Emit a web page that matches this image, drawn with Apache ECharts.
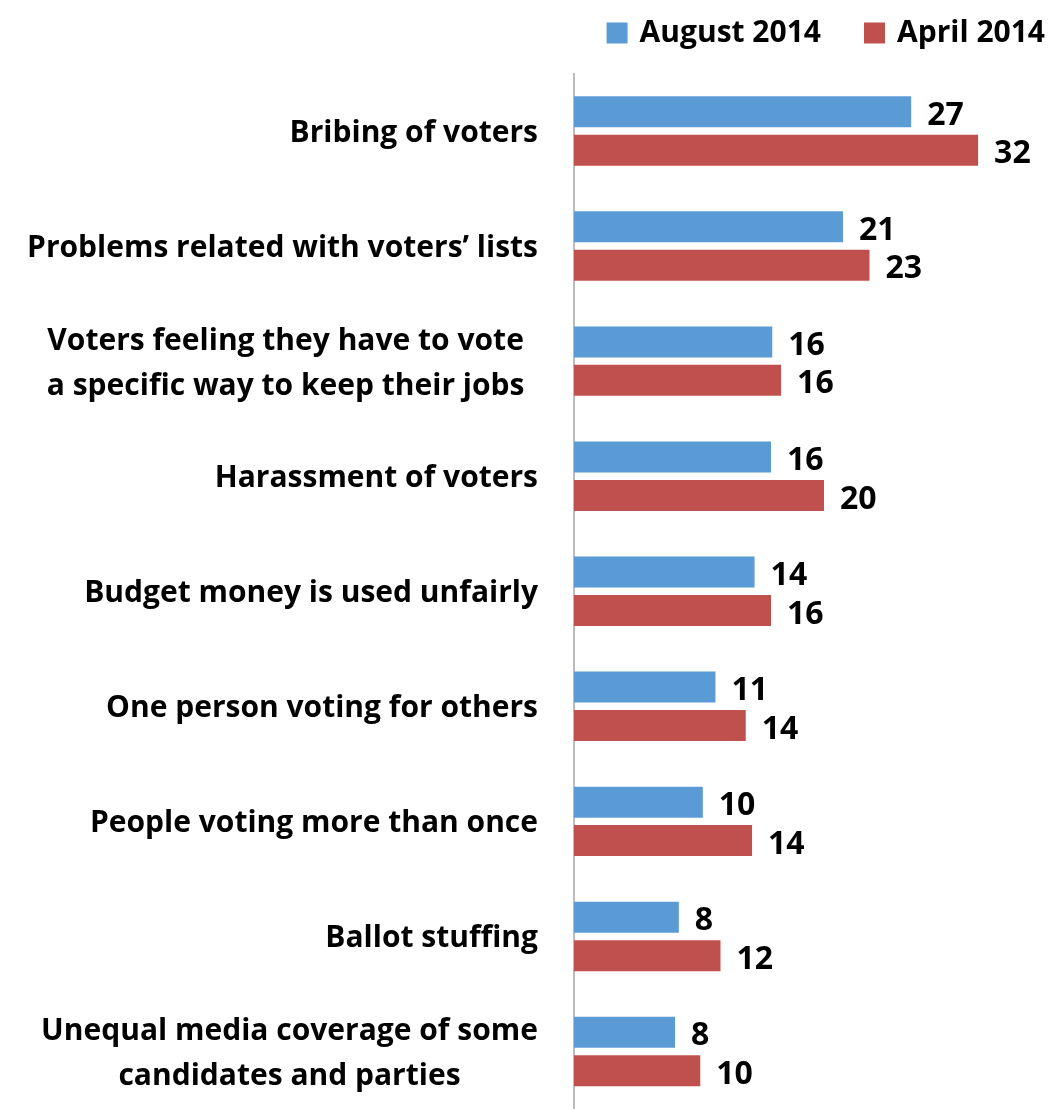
<!DOCTYPE html>
<html>
<head>
<meta charset="utf-8">
<script src="https://cdn.jsdelivr.net/npm/echarts@6/dist/echarts.min.js"></script>
<style>
  html, body { margin: 0; padding: 0; background: #ffffff; }
  #chart { width: 1056px; height: 1109px; }
</style>
</head>
<body>
<div id="chart"></div>
<script>
const categories = [
  "Bribing of voters",
  "Problems related with voters\u2019 lists",
  "Voters feeling they have to vote \na specific way to keep their jobs ",
  "Harassment of voters",
  "Budget money is used unfairly",
  "One person voting for others",
  "People voting more than once",
  "Ballot stuffing",
  "Unequal media coverage of some\ncandidates and parties"
];
const seriesNames = ["August 2014", "April 2014"];
const august2014 = [26.7, 21.3, 15.7, 15.6, 14.3, 11.2, 10.2, 8.3, 8.0];
const april2014 = [32.0, 23.4, 16.4, 19.8, 15.6, 13.6, 14.1, 11.6, 10.0];

const FONT = "Open Sans";
const labelSize = 30;
const valueSize = 32;

const measureCanvas = document.createElement("canvas").getContext("2d");
measureCanvas.font = "bold " + labelSize + "px '" + FONT + "'";
function measure(t) { return measureCanvas.measureText(t).width; }

const richStyle = {
  c: { align: "center", fontFamily: FONT, fontWeight: "bold", fontSize: labelSize, color: "#000", lineHeight: 45 }
};
categories.forEach(c => {
  const lines = c.split("\n");
  if (lines.length > 1) {
    const w = Math.ceil(Math.max.apply(null, lines.map(measure)));
    richStyle.c.width = Math.max(richStyle.c.width || 0, w);
  }
});

const valueLabel = {
  show: true, position: "right", distance: 16, offset: [0, 4],
  fontFamily: FONT, fontWeight: "bold", fontSize: valueSize, color: "#000",
  padding: [3, 0, 0, 0],
  formatter: p => String(Math.round(p.value))
};

const chart = echarts.init(document.getElementById("chart"), null, { renderer: "canvas" });
chart.setOption({
  animation: false,
  backgroundColor: "#ffffff",
  legend: {
    data: seriesNames,
    right: 6,
    top: 13,
    itemWidth: 21,
    itemHeight: 21,
    itemGap: 43,
    icon: "rect",
    textStyle: { fontFamily: FONT, fontWeight: "bold", fontSize: labelSize, color: "#000", padding: [3, 0, 0, 7] }
  },
  grid: { left: 574, top: 73.5, width: 442, height: 1038.6, containLabel: false },
  xAxis: {
    type: "value", min: 0, max: 35,
    show: false,
    splitLine: { show: false }
  },
  yAxis: {
    type: "category",
    data: categories,
    inverse: true,
    axisLine: { show: true, lineStyle: { color: "#a6a6a6", width: 1.5 } },
    axisTick: { show: false },
    axisLabel: {
      margin: 36,
      fontFamily: FONT, fontWeight: "bold", fontSize: labelSize, color: "#000",
      lineHeight: 45,
      padding: [5, 0, 0, 0],
      formatter: function (v) {
        const lines = v.split("\n");
        if (lines.length === 1) return v;
        return lines.map(l => "{c|" + l + "}").join("\n");
      },
      rich: richStyle
    }
  },
  series: [
    {
      name: seriesNames[0], type: "bar", data: august2014,
      barWidth: 31, barGap: "24%",
      itemStyle: { color: "#5b9bd5" },
      label: valueLabel
    },
    {
      name: seriesNames[1], type: "bar", data: april2014,
      barWidth: 31, barGap: "24%",
      itemStyle: { color: "#c0504d" },
      label: valueLabel
    }
  ]
});
</script>
</body>
</html>
